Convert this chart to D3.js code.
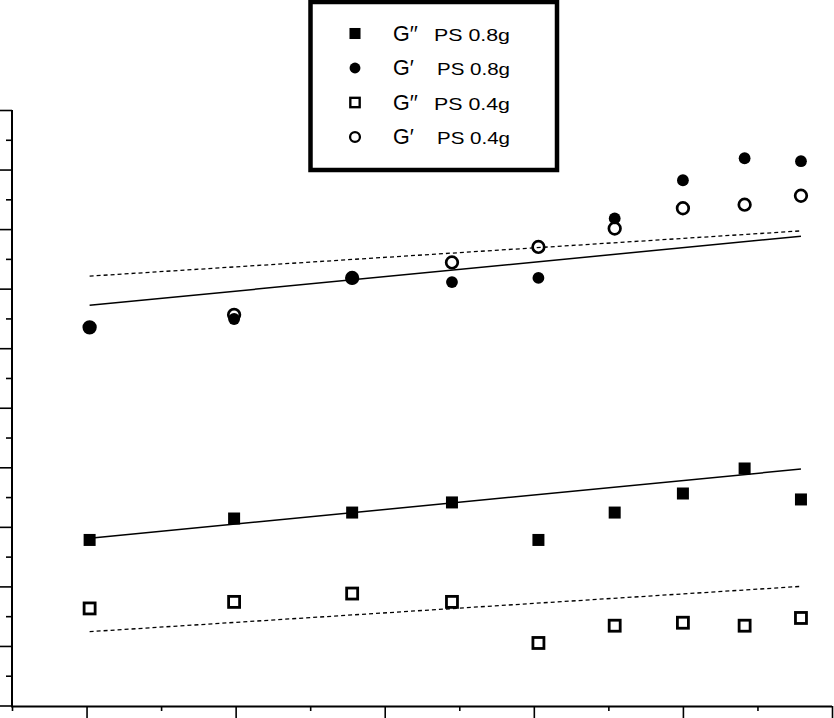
<!DOCTYPE html>
<html>
<head>
<meta charset="utf-8">
<script src="https://cdn.jsdelivr.net/npm/d3@7"></script>
<style>
  body { margin: 0; background: #fff; }
  svg { display: block; font-family: "Liberation Sans", Arial, sans-serif; }
</style>
</head>
<body>
<div id="chart"></div>
<script>
// ------------------------------------------------------------
// Data (x = frequency, log axis; y = log modulus, arbitrary units)
// ------------------------------------------------------------
const freq = [4, 5, 6, 7, 8, 9, 10, 11, 12];

const gpp08 = [2.78, 3.14, 3.24, 3.41, 2.78, 3.24, 3.56, 3.98, 3.46];   // G'' PS 0.8g
const gp08  = [6.34, 6.49, 7.17, 7.11, 7.18, 8.18, 8.82, 9.19, 9.14];   // G'  PS 0.8g
const gpp04 = [1.63, 1.74, 1.88, 1.74, 1.05, 1.34, 1.39, 1.34, 1.47];   // G'' PS 0.4g
const gp04  = [6.35, 6.56, 7.18, 7.44, 7.70, 8.01, 8.35, 8.41, 8.56];   // G'  PS 0.4g

// fitted lines, value at first and last frequency
const fitFreq  = [4, 12];
const fitGpp08 = [2.81, 3.97];
const fitGp08  = [6.72, 7.88];
const fitGpp04 = [1.24, 2.00];
const fitGp04  = [7.21, 7.97];

const legendMain = ["G\u2032\u2032", "G\u2032", "G\u2032\u2032", "G\u2032"];
const legendSub  = ["PS 0.8g", "PS 0.8g", "PS 0.4g", "PS 0.4g"];

// ------------------------------------------------------------
// Setup
// ------------------------------------------------------------
const width = 834, height = 718;

const svg = d3.select("#chart").append("svg")
  .attr("width", width)
  .attr("height", height);

const x = d3.scaleLog()
  .domain([Math.pow(10, 0.55), Math.pow(10, 1.1)])
  .range([12, 832]);

const y = d3.scaleLinear()
  .domain([0, 10])
  .range([705.5, 110]);

const majorX = d3.range(0.6, 1.1001, 0.1).map(v => Math.pow(10, v));
const minorX = d3.range(0.55, 1.06, 0.1).map(v => Math.pow(10, v));
const majorY = d3.range(0, 10.01, 1);
const minorY = d3.range(0.5, 10, 1);

// ------------------------------------------------------------
// Axes
// ------------------------------------------------------------
function tickGroup(axis, transform) {
  const g = svg.append("g")
    .attr("transform", transform)
    .call(axis);
  g.select(".domain").remove();
  g.selectAll("text").remove();
  g.selectAll("line").attr("stroke", "#000").attr("stroke-width", 1.6);
  return g;
}

tickGroup(d3.axisBottom(x).tickValues(majorX).tickSize(14).tickFormat(""), "translate(0,706)");
tickGroup(d3.axisBottom(x).tickValues(minorX).tickSize(5).tickFormat(""), "translate(0,706)");
tickGroup(d3.axisLeft(y).tickValues(majorY).tickSize(14).tickFormat(""), "translate(12,0)");
tickGroup(d3.axisLeft(y).tickValues(minorY).tickSize(6).tickFormat(""), "translate(12,0)");

// axis lines
svg.append("line")
  .attr("x1", x.range()[0]).attr("x2", x.range()[1])
  .attr("y1", 706.5).attr("y2", 706.5)
  .attr("stroke", "#000").attr("stroke-width", 2);

svg.append("line")
  .attr("x1", 12).attr("x2", 12)
  .attr("y1", y.range()[1]).attr("y2", 707.5)
  .attr("stroke", "#000").attr("stroke-width", 2);

// ------------------------------------------------------------
// Fit lines
// ------------------------------------------------------------
const line = d3.line()
  .x(d => x(d[0]))
  .y(d => y(d[1]));

const fits = [
  { vals: fitGp08,  dash: null },
  { vals: fitGp04,  dash: "4,3" },
  { vals: fitGpp08, dash: null },
  { vals: fitGpp04, dash: "4,3" }
];

fits.forEach(f => {
  svg.append("path")
    .datum(d3.zip(fitFreq, f.vals))
    .attr("fill", "none")
    .attr("stroke", "#000")
    .attr("stroke-width", f.dash ? 1.3 : 1.5)
    .attr("stroke-dasharray", f.dash)
    .attr("d", line);
});

// ------------------------------------------------------------
// Markers
// ------------------------------------------------------------
function drawMarker(g, shape, filled, cx, cy, scale = 1) {
  if (shape === "square") {
    const s = (filled ? 12 : 11) * scale;
    g.append("rect")
      .attr("x", cx - s / 2).attr("y", cy - s / 2)
      .attr("width", s).attr("height", s)
      .attr("fill", filled ? "#000" : "none")
      .attr("stroke", filled ? "none" : "#000")
      .attr("stroke-width", filled ? 0 : 2.8 * scale);
  } else {
    g.append("circle")
      .attr("cx", cx).attr("cy", cy)
      .attr("r", (filled ? 5.9 : 5.8) * scale)
      .attr("fill", filled ? "#000" : "none")
      .attr("stroke", filled ? "none" : "#000")
      .attr("stroke-width", filled ? 0 : 2.7 * scale);
  }
}

const series = [
  { vals: gpp04, shape: "square", filled: false },
  { vals: gp04,  shape: "circle", filled: false },
  { vals: gpp08, shape: "square", filled: true },
  { vals: gp08,  shape: "circle", filled: true }
];

const pts = svg.append("g");
series.forEach(s => {
  s.vals.forEach((v, i) => drawMarker(pts, s.shape, s.filled, x(freq[i]), y(v)));
});

// ------------------------------------------------------------
// Legend
// ------------------------------------------------------------
const legendStyles = [
  { shape: "square", filled: true },
  { shape: "circle", filled: true },
  { shape: "square", filled: false },
  { shape: "circle", filled: false }
];

const legend = svg.append("g");

legend.append("rect")
  .attr("x", 310.5).attr("y", 2)
  .attr("width", 246.5).attr("height", 168)
  .attr("fill", "#fff")
  .attr("stroke", "#000")
  .attr("stroke-width", 4.5);

legendMain.forEach((label, i) => {
  const base = 40.5 + i * 34.5;
  const st = legendStyles[i];
  drawMarker(legend, st.shape, st.filled, 355, base - 7, st.filled ? 0.92 : 0.85);

  legend.append("text")
    .attr("x", 393).attr("y", base)
    .attr("font-size", 21.5)
    .attr("fill", "#000")
    .text(label);

  legend.append("text")
    .attr("x", label.length > 2 ? 434 : 437).attr("y", base)
    .attr("font-size", 17)
    .attr("textLength", label.length > 2 ? 76 : 73)
    .attr("lengthAdjust", "spacingAndGlyphs")
    .attr("fill", "#000")
    .text(legendSub[i]);
});
</script>
</body>
</html>
